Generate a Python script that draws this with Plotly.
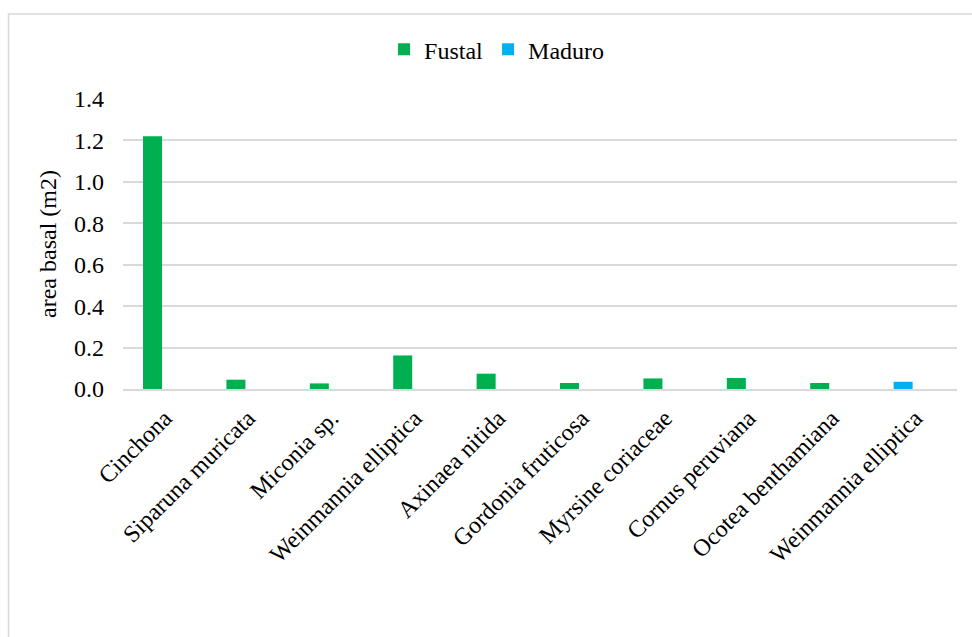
import plotly.graph_objects as go

# Basal area per species, by size class
species = [
    "Cinchona",
    "Siparuna muricata",
    "Miconia sp.",
    "Weinmannia elliptica",
    "Axinaea nitida",
    "Gordonia fruticosa",
    "Myrsine coriaceae",
    "Cornus peruviana",
    "Ocotea benthamiana",
    "Weinmannia elliptica",
]
fustal = [1.22, 0.045, 0.027, 0.162, 0.074, 0.029, 0.051, 0.053, 0.029, None]
maduro = [None, None, None, None, None, None, None, None, None, 0.035]
y_ticks = [0.0, 0.2, 0.4, 0.6, 0.8, 1.0, 1.2, 1.4]

positions = list(range(len(species)))
FONT = "Liberation Serif"
GRID = "#D9D9D9"
SIZE = 24

fig = go.Figure()
fig.add_trace(go.Bar(
    x=positions, y=fustal, name="Fustal",
    marker=dict(color="#00B050", line=dict(width=0)),
    width=0.228, offset=-0.26,
))
fig.add_trace(go.Bar(
    x=positions, y=maduro, name="Maduro",
    marker=dict(color="#00B0F0", line=dict(width=0)),
    width=0.228, offset=-0.26,
))

fig.update_layout(
    width=972, height=637,
    margin=dict(l=123, r=15, t=99, b=248),
    paper_bgcolor="white", plot_bgcolor="white",
    barmode="overlay",
    font=dict(family=FONT, size=SIZE, color="black"),
    legend=dict(
        orientation="h", x=0.313, y=1.17, xanchor="left", yanchor="middle",
        font=dict(family=FONT, size=SIZE, color="black"),
        itemwidth=30, bgcolor="rgba(0,0,0,0)",
    ),
    shapes=[dict(
        type="rect", xref="paper", yref="paper",
        x0=-0.1373, x1=1.2, y0=-1.0, y1=1.2931,
        line=dict(color=GRID, width=1.5), fillcolor="rgba(0,0,0,0)", layer="below",
    )],
)

fig.update_xaxes(
    range=[-0.5, len(species) - 0.5],
    tickmode="array", tickvals=positions, ticktext=species,
    tickangle=-45, showgrid=False,
    showline=True, linecolor=GRID, linewidth=1.5,
    ticks="", ticklabelstandoff=4,
    tickfont=dict(family=FONT, size=SIZE, color="black"),
)
fig.update_yaxes(
    range=[0, 1.4], tickmode="array", tickvals=y_ticks,
    ticktext=[f"{v:.1f}" for v in y_ticks],
    showgrid=True, gridcolor=GRID, gridwidth=1.5,
    zeroline=False, showline=False, ticks="",
    ticklabelstandoff=18,
    tickfont=dict(family=FONT, size=SIZE, color="black"),
    title=dict(text="area basal (m2)", standoff=10,
               font=dict(family=FONT, size=SIZE, color="black")),
)

fig.write_html("out.html")
